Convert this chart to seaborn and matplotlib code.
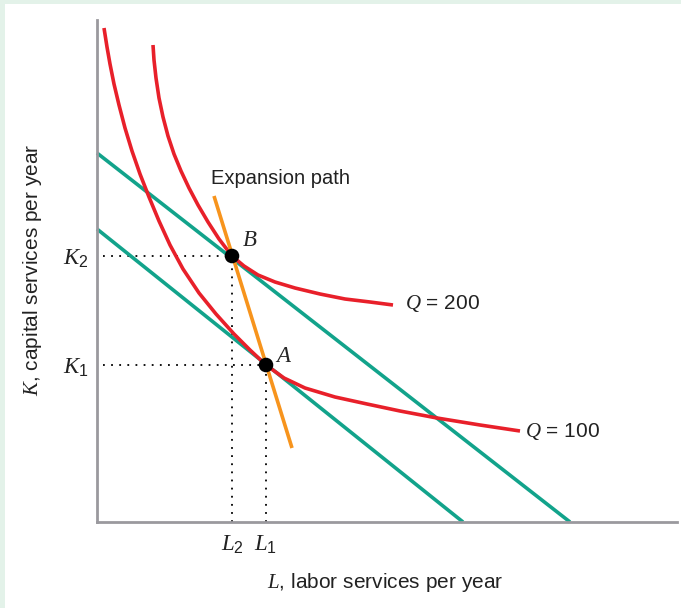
import numpy as np
import pandas as pd
import matplotlib
matplotlib.use("Agg")
import matplotlib.pyplot as plt
import seaborn as sns
from matplotlib.patches import Rectangle

# ---------------- data (units) ----------------
# Isoquant Q = 100
q100_L = [0.7, 1.0, 1.3, 1.7, 2.2, 2.8, 3.5, 4.3, 5.2, 6.2, 7.3, 8.6, 10.2, 11.9, 13.7,
          15.3, 16.9, 18.7, 20.8, 23.8, 27.0, 30.3, 34.0, 38.3, 42.3]
q100_K = [49.4, 47.5, 45.8, 43.8, 41.7, 39.4, 37.1, 34.8, 32.5, 30.1, 27.7, 25.3, 22.9, 20.8, 18.8,
          17.2, 15.7, 14.4, 13.4, 12.5, 11.8, 11.1, 10.4, 9.7, 9.1]
# Isoquant Q = 200
q200_L = [5.6, 5.7, 5.9, 6.2, 6.6, 7.1, 7.7, 8.4, 9.2, 10.1, 11.1, 12.2, 13.5, 14.7,
          16.1, 17.8, 19.8, 22.3, 24.8, 27.3, 29.6]
q200_K = [47.7, 46.2, 44.4, 42.4, 40.5, 38.6, 36.8, 35.1, 33.4, 31.7, 30.0, 28.3, 26.6, 25.6,
          24.7, 24.0, 23.4, 22.8, 22.3, 22.0, 21.7]
# Isocost lines (endpoints on the axes)
iso_low_L = [0.0, 36.6]
iso_low_K = [29.3, 0.0]
iso_high_L = [0.0, 47.3]
iso_high_K = [36.9, 0.0]
# Expansion path
exp_L = [11.7, 19.5]
exp_K = [32.6, 7.4]
# Optimal points
pt_names = ["A", "B"]
pt_L = [16.9, 13.5]
pt_K = [15.7, 26.6]
x_tick_labels = ["$L_2$", "$L_1$"]
y_tick_labels = ["$K_2$", "$K_1$"]

RED = "#e8202a"
TEAL = "#12a38b"
ORANGE = "#f7941d"
AXIS_GREY = "#9a999e"
FRAME = "#e3f2e9"

sns.set_theme(style="white")
plt.rcParams["font.family"] = ["Liberation Sans", "DejaVu Sans"]
plt.rcParams["mathtext.fontset"] = "custom"
plt.rcParams["mathtext.it"] = "Liberation Serif:italic"
plt.rcParams["mathtext.rm"] = "Liberation Sans"
plt.rcParams["mathtext.cal"] = "Liberation Serif:italic"
plt.rcParams["lines.solid_joinstyle"] = "round"
plt.rcParams["lines.solid_capstyle"] = "butt"

W, H = 681, 608
fig = plt.figure(figsize=(W / 100, H / 100), dpi=100, facecolor="white")
# light green frame (top & left)
fig.patches.append(Rectangle((0, 1 - 4 / H), 1, 4 / H, transform=fig.transFigure,
                             facecolor=FRAME, edgecolor="none", zorder=0))
fig.patches.append(Rectangle((0, 0), 5 / W, 1, transform=fig.transFigure,
                             facecolor=FRAME, edgecolor="none", zorder=0))

ax = fig.add_axes([97 / W, (H - 522) / H, (677 - 97) / W, (522 - 20) / H])
ax.set_facecolor("none")
ax.set_xlim(0, 58.0)
ax.set_ylim(0, 50.2)

lw = 2.6
df100 = pd.DataFrame({"L": q100_L, "K": q100_K})
df200 = pd.DataFrame({"L": q200_L, "K": q200_K})
sns.lineplot(data=df100, x="L", y="K", sort=False, estimator=None, color=RED, lw=lw, ax=ax, zorder=3)
sns.lineplot(data=df200, x="L", y="K", sort=False, estimator=None, color=RED, lw=lw, ax=ax, zorder=3)
sns.lineplot(x=iso_low_L, y=iso_low_K, sort=False, estimator=None, color=TEAL, lw=lw, ax=ax, zorder=2)
sns.lineplot(x=iso_high_L, y=iso_high_K, sort=False, estimator=None, color=TEAL, lw=lw, ax=ax, zorder=2)
sns.lineplot(x=exp_L, y=exp_K, sort=False, estimator=None, color=ORANGE, lw=lw, ax=ax, zorder=4)

# dotted guides
for L, K in zip(pt_L, pt_K):
    ax.plot([0.6, L], [K, K], color="black", lw=1.3, ls=(0, (1, 3.5)), zorder=1)
    ax.plot([L, L], [0, K], color="black", lw=1.3, ls=(0, (1, 3.5)), zorder=1)

sns.scatterplot(x=pt_L, y=pt_K, color="black", s=110, edgecolor="none", ax=ax, zorder=6)
for line in ax.get_lines():
    line.set_clip_on(False)

# annotations
ax.text(pt_L[0] + 1.8, pt_K[0] + 1.0, "$A$", fontsize=16.5, ha="center", va="center")
ax.text(pt_L[1] + 1.8, pt_K[1] + 1.6, "$B$", fontsize=16.5, ha="center", va="center")
ax.text(11.4, 34.4, "Expansion path", fontsize=14.5, ha="left", va="center", color="#222222")
ax.text(q200_L[-1] + 1.2, q200_K[-1] + 0.1, "$Q$ = 200", fontsize=15, ha="left", va="center", color="#222222")
ax.text(q100_L[-1] + 0.5, q100_K[-1] - 0.1, "$Q$ = 100", fontsize=15, ha="left", va="center", color="#222222")

# ticks
ax.set_xticks(sorted(pt_L))
ax.set_xticklabels(x_tick_labels, fontsize=16.5)
ax.set_yticks(sorted(pt_K, reverse=True))
ax.set_yticklabels(y_tick_labels, fontsize=16.5)
ax.tick_params(axis="x", length=0, pad=8, colors="#222222")
ax.tick_params(axis="y", length=0, pad=6, colors="#222222")
ax.set_xlabel("")
ax.set_ylabel("")

for s in ["top", "right"]:
    ax.spines[s].set_visible(False)
for s in ["left", "bottom"]:
    ax.spines[s].set_color(AXIS_GREY)
    ax.spines[s].set_linewidth(2.0)

fig.text(385 / W, 1 - 583 / H, "$L$, labor services per year", fontsize=15,
         ha="center", va="center", color="#222222")
fig.text(33 / W, 1 - 270 / H, "$K$, capital services per year", fontsize=15,
         ha="center", va="center", rotation=90, color="#222222")

fig.savefig("out.png", dpi=100, facecolor="white")
